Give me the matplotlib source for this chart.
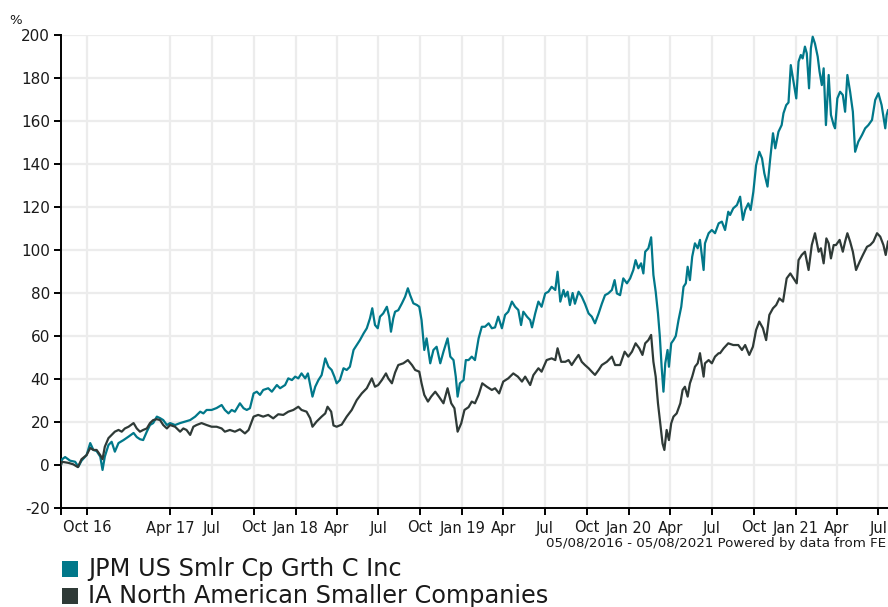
import matplotlib
matplotlib.use("Agg")
import matplotlib.pyplot as plt
import numpy as np
from matplotlib.patches import Rectangle

# ---------------- data (cumulative % performance, days since 05/08/2016) -------------
start_date = "2016-08-05"
end_day = 1812

jpm_name = "JPM US Smlr Cp Grth C Inc"
jpm_days = [0, 2, 9, 20, 31, 38, 45, 56, 64, 71, 78, 86, 91, 96, 104, 111, 118, 126, 137, 148,
            159, 166, 173, 180, 188, 195, 202, 210, 217, 224, 232, 239, 250, 261, 272, 283, 294,
            305, 312, 319, 330, 341, 352,
            359, 367, 374, 381, 392, 400, 407, 414, 422, 429, 436, 443, 454, 462, 473, 480, 491,
            498, 506, 513, 520, 527, 535, 541, 546, 551, 557, 564, 571, 579, 586, 593, 599, 604,
            611, 619, 626, 633, 641, 648, 655, 663, 670, 677, 682, 688, 694, 699, 706, 714, 719,
            723, 728,
            732, 739, 747, 754, 760, 765, 772, 780, 785, 790, 796, 801, 809, 816, 823, 831, 838,
            847, 853, 860, 865, 869, 874, 882, 887, 893, 900, 907, 915, 922, 929, 937, 944, 951,
            958, 966, 973, 980, 988, 995, 1002, 1008, 1013, 1021, 1028, 1032, 1039, 1046, 1053,
            1061, 1068, 1075, 1083, 1088, 1094, 1101,
            1105, 1110, 1115, 1121, 1126, 1134, 1141, 1148, 1156, 1163, 1170, 1178, 1185, 1192,
            1199, 1207, 1213, 1218, 1225, 1232, 1240, 1247, 1254, 1259, 1265, 1271, 1276, 1280,
            1287, 1293, 1298, 1303, 1308, 1312, 1316, 1320, 1324, 1329, 1332, 1337, 1342, 1347,
            1353, 1359, 1364, 1369, 1373, 1378, 1383, 1389, 1395, 1400, 1408, 1411, 1419, 1426,
            1433, 1441, 1448, 1455, 1462,
            1466, 1473, 1481, 1488, 1494, 1499, 1506, 1511, 1517, 1523, 1530, 1536, 1541, 1548,
            1554, 1560, 1565, 1572, 1579, 1583, 1589, 1594, 1599, 1605, 1611, 1616, 1621, 1625,
            1630, 1634, 1639, 1643, 1647, 1652, 1658, 1662, 1667, 1671, 1676, 1682, 1687, 1693,
            1696, 1701, 1707, 1713, 1718, 1723, 1729, 1735, 1740, 1747, 1755, 1762, 1769, 1777,
            1784, 1791, 1798, 1806, 1809, 1812]
jpm_pct = [0, 2.6, 3.7, 2, 1.5, -0.8, 2, 4.6, 10.2, 7, 6.5, 3.9, -2.3, 3.9, 9.3, 10.8, 6.2, 10.2,
           11.6, 13.2, 14.9, 13, 12, 11.6, 15.5, 18.6, 19.5, 22.5, 21.8, 20.9, 18.6, 19.5, 18.6,
           19.5, 20.2, 20.9, 22.5, 24.8, 24, 25.6, 25.6, 26.5, 27.9,
           25.6, 24, 25.6, 24.8, 28.7, 26.4, 25.6, 26.4, 33.3, 34.1, 32.6, 34.9, 35.7, 34.1, 37.2,
           35.7, 37.2, 40.3, 39.5, 41.1, 40.3, 42.6, 40.3, 42.6, 37.2, 31.8, 36.4, 39.5, 41.8,
           49.6, 45.7, 44.2, 41.1, 38, 39.5, 45, 44.2, 45.7, 53.5, 55.8, 58.1, 61.2, 63.6, 68.2,
           72.9, 65.1, 63.6, 69, 70.5, 73.6, 69, 62, 68.2,
           71.3, 72, 75.2, 78.3, 82.2, 79, 75.2, 74.4, 73.6, 67.4, 53.5, 58.9, 47.3, 53.5, 55,
           47.3, 52.7, 58.9, 50.4, 48.8, 41.1, 31.8, 38, 39.5, 48.8, 48.8, 50.4, 48.8, 58.9, 64.3,
           64.3, 65.9, 63.6, 64, 69, 63.6, 69.8, 71.3, 76, 73.6, 72.1, 65.1, 71.3, 69, 67.4, 64,
           70.5, 76, 73.6, 79.8, 80.6, 82.9, 81.4, 89.9, 76, 81.4,
           78.3, 80.6, 74.4, 80, 75, 80.6, 78.3, 75, 70.5, 69, 65.9, 70.5, 75, 79, 79.8, 81.4, 86,
           79.8, 79, 86.8, 84.5, 86.8, 90.7, 95.3, 91.5, 93.8, 89.1, 99.2, 100.8, 105.9, 88.4,
           80.6, 70.5, 60, 45.7, 34.1, 47.3, 53.5, 45.7, 56.6, 58.1, 60, 67.4, 73.6, 82.9, 84.5,
           92.2, 86, 96.9, 103.1, 100.8, 104.7, 90.7, 103.1, 107.8, 109.3, 107.8, 112.4, 113.2,
           109.3, 117.8,
           116.3, 119.4, 120.9, 124.8, 114, 118.6, 121.7, 118.6, 127.1, 139.5, 145.7, 142.6,
           135.7, 129.5, 142.6, 154.3, 147.3, 155, 158.1, 163.6, 167.4, 168.6, 186, 178.3, 170.5,
           187.6, 190.7, 189.1, 194.6, 191.5, 175.2, 193.8, 199.2, 196, 189.9, 183, 176.7, 184.5,
           158.1, 181.4, 162.8, 158.1, 156.6, 170.5, 173.6, 172.1, 164.3, 181.4, 173.6, 164.3,
           145.7, 150.4, 153.5, 156.6, 158.1, 160.5, 169.8, 172.9, 167.4, 156.6, 162.8, 165]

ia_name = "IA North American Smaller Companies"
ia_days = [0, 2, 16, 27, 37, 45, 56, 64, 71, 78, 86, 91, 96, 104, 111, 118, 126, 133, 140, 148,
           159, 166, 173, 180, 188, 195, 202, 210, 217, 224, 232, 239, 250, 261, 268, 275, 283,
           290, 297, 308, 319, 330, 341, 352,
           359, 370, 381, 392, 403, 411, 422, 432, 443, 454, 465, 476, 487, 498, 509, 520, 527,
           538, 546, 551, 560, 571, 579, 584, 592, 597, 604, 615, 626, 637, 648, 659, 670, 681,
           688, 695, 703, 712, 717, 725,
           732, 739, 750, 760, 769, 776, 785, 790, 796, 804, 811, 820, 828, 838, 847, 855, 862,
           869, 877, 884, 893, 900, 907, 915, 923, 933, 944, 951, 960, 969, 980, 991, 1001, 1010,
           1017, 1028, 1035, 1046, 1053, 1064, 1075, 1083, 1088, 1096,
           1105, 1112, 1119, 1126, 1134, 1141, 1148, 1156, 1163, 1170, 1178, 1185, 1196, 1207,
           1214, 1225, 1235, 1243, 1251, 1259, 1267, 1274, 1280, 1287, 1293, 1298, 1303, 1308,
           1313, 1318, 1322, 1327, 1332, 1337, 1342, 1349, 1357, 1362, 1367, 1373, 1378, 1383,
           1389, 1395, 1400, 1408, 1411, 1419, 1426, 1433, 1441,
           1444, 1452, 1462, 1473, 1484, 1492, 1499, 1508, 1516, 1523, 1530, 1538, 1545, 1552,
           1560, 1567, 1574, 1582, 1587, 1590, 1598, 1605, 1612, 1616, 1623, 1630, 1638, 1645,
           1652, 1660, 1665, 1671, 1677, 1682, 1687, 1693, 1698, 1706, 1713, 1718, 1723, 1729,
           1735, 1742, 1750, 1757, 1766, 1773, 1780, 1788, 1795, 1802, 1807, 1812]
ia_pct = [0, 1.5, 1, 0.3, -1, 2.7, 4.6, 7.9, 7, 7, 4.6, 2.7, 8.5, 12.5, 14, 15.5, 16.3, 15.5, 17,
          17.8, 19.5, 17, 15.5, 16.3, 17, 19.5, 20.9, 21.3, 20.9, 18.6, 17, 18.6, 17.8, 15.5, 17,
          16.3, 14, 17.8, 18.6, 19.5, 18.6, 17.8, 17.8, 17,
          15.5, 16.3, 15.5, 16.6, 14.7, 16.3, 22.5, 23.3, 22.5, 23.3, 21.7, 23.6, 23.3, 24.8,
          25.6, 27.1, 25.6, 24.8, 21.7, 17.8, 20.2, 22.5, 24, 27.1, 24.8, 18.4, 17.8, 18.8, 22.5,
          25.6, 30.2, 33.3, 35.7, 40.3, 36.4, 37.2, 39.5, 42.6, 40.3, 38,
          43, 46.5, 47.3, 48.8, 46.5, 44.2, 43.4, 38, 32.6, 29.5, 31.8, 34.1, 31.8, 28.7, 35.7,
          28.7, 26.4, 15.5, 19.4, 25.6, 26.9, 29.5, 28.7, 32.6, 38, 36.4, 34.9, 35.7, 33.3, 38.8,
          40.3, 42.6, 41.1, 38.8, 41.1, 37.2, 41.8, 45, 43.4, 48.8, 49.6, 48.8, 54.3, 48,
          48, 48.8, 46.5, 48.8, 51.2, 48, 46.5, 45, 43.4, 41.9, 44.2, 46.5, 48, 50.4, 46.5, 46.5,
          52.7, 50.4, 52.7, 56.6, 54.3, 51.2, 56.6, 58.1, 60.5, 48, 41.1, 28.7, 19.4, 10, 7, 16.3,
          11.6, 19.4, 22.5, 24, 28.7, 34.9, 36.4, 31.8, 38, 41.1, 45.7, 47.3, 52, 41.1, 47.3,
          48.8, 47.3, 50.4, 52,
          52, 54.3, 56.6, 55.8, 55.8, 53.5, 55.8, 51.2, 55, 62.8, 66.7, 63.6, 58.1, 69.8, 72.9,
          74.4, 77.5, 76, 82.9, 86.8, 89.1, 86.8, 84.5, 95.3, 97.7, 99.2, 90.7, 102.3, 107.8,
          99.2, 100.8, 93.8, 105.4, 103.1, 96.1, 102.3, 102.3, 104.7, 99.2, 103.9, 107.8, 103.9,
          99.2, 90.7, 94.6, 97.7, 101.5, 102.3, 103.9, 107.8, 106.2, 102.3, 97.7, 103.9]

tick_dates = ["2016-10-01", "2017-04-01", "2017-07-01", "2017-10-01", "2018-01-01",
              "2018-04-01", "2018-07-01", "2018-10-01", "2019-01-01", "2019-04-01",
              "2019-07-01", "2019-10-01", "2020-01-01", "2020-04-01", "2020-07-01",
              "2020-10-01", "2021-01-01", "2021-04-01", "2021-07-01"]
tick_labels = ["Oct 16", "Apr 17", "Jul", "Oct", "Jan 18", "Apr", "Jul", "Oct", "Jan 19",
               "Apr", "Jul", "Oct", "Jan 20", "Apr", "Jul", "Oct", "Jan 21", "Apr", "Jul"]
y_ticks = [-20, 0, 20, 40, 60, 80, 100, 120, 140, 160, 180, 200]
footer = "05/08/2016 - 05/08/2021 Powered by data from FE"

# ---------------- styling -------------
TEAL = "#01788a"
DARK = "#2f3a37"
GRID = "#ececec"
TXT = "#1a1a1a"
W, H = 888, 607

plt.rcParams["font.family"] = ["DejaVu Sans"]

fig = plt.figure(figsize=(W / 100, H / 100), dpi=100)
fig.patch.set_facecolor("white")
ax = fig.add_axes([61 / W, (H - 508) / H, (W - 61) / W, (508 - 35) / H])

start = np.datetime64(start_date)
jpm_x = start + np.array(jpm_days).astype("timedelta64[D]")
ia_x = start + np.array(ia_days).astype("timedelta64[D]")

ax.plot(jpm_x, jpm_pct, color=TEAL, lw=1.6, solid_joinstyle="round", zorder=3)
ax.plot(ia_x, ia_pct, color=DARK, lw=1.6, solid_joinstyle="round", zorder=4)

ax.set_xlim(start, start + np.timedelta64(end_day, "D"))
ax.set_ylim(-20, 200)
ax.set_yticks(y_ticks)
ax.set_yticklabels([str(v) for v in y_ticks])
ax.set_xticks([np.datetime64(d) for d in tick_dates])
ax.set_xticklabels(tick_labels)
ax.set_xticks([start], minor=True)

ax.grid(True, which="major", color=GRID, lw=1.6)
ax.set_axisbelow(True)
for s in ("top", "right"):
    ax.spines[s].set_visible(False)
for s in ("left", "bottom"):
    ax.spines[s].set_color("black")
    ax.spines[s].set_linewidth(1.4)
ax.tick_params(axis="both", which="both", length=5, width=1.4, color="black",
               labelsize=10.5, labelcolor=TXT)
ax.tick_params(axis="y", labelsize=11, pad=3)
ax.tick_params(axis="x", pad=4)

fig.text(16 / W, 1 - 20 / H, "%", ha="center", va="center", fontsize=9.5, color=TXT)
fig.text(886 / W, 1 - 543 / H, footer, ha="right", va="center", fontsize=9.6, color=TXT)

# legend
for i, (name, col) in enumerate([(jpm_name, TEAL), (ia_name, DARK)]):
    yc = 569 + 27 * i
    fig.patches.append(Rectangle((62 / W, 1 - (yc + 8) / H), 16 / W, 16 / H,
                                 transform=fig.transFigure, facecolor=col, edgecolor="none"))
    fig.text(88 / W, 1 - yc / H, name, ha="left", va="center", fontsize=17.3, color=TXT)

fig.savefig("out.png", dpi=100, facecolor="white")
